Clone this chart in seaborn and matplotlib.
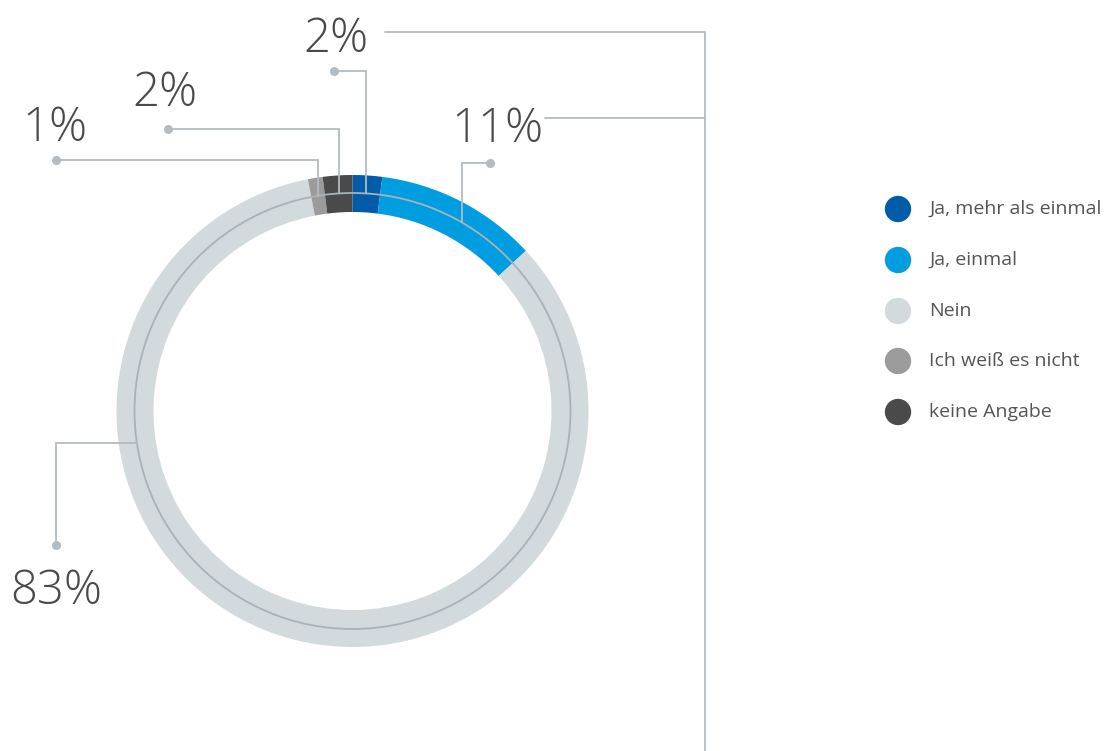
import numpy as np
import matplotlib
matplotlib.use("Agg")
import matplotlib.pyplot as plt
from matplotlib.patches import Circle
import pandas as pd
import seaborn as sns

# Survey answers, drawn clockwise from 12 o'clock
categories = ["Ja, mehr als einmal", "Ja, einmal", "Nein", "Ich weiß es nicht", "keine Angabe"]
values = [2, 11, 83, 1, 2]
labels = ["2%", "11%", "83%", "1%", "2%"]
colors = ["#005ca9", "#009ee0", "#d3dadd", "#9b9b9b", "#4a4a4a"]

sns.set_theme(style="white")
plt.rcParams["font.family"] = ["Open Sans", "DejaVu Sans"]

W, H = 1109, 751
fig = plt.figure(figsize=(W / 100, H / 100), dpi=100)
ax = fig.add_axes([0, 0, 1, 1])

# ring geometry (pixel units, y grows downwards)
cx, cy = 352.5, 411.0
R_OUT, RING_W, R_LINE = 236.0, 37.0, 218.0

ax.pie(values, colors=colors, startangle=-90, counterclock=True,
       center=(cx, cy), radius=R_OUT, frame=True,
       wedgeprops=dict(width=RING_W, linewidth=0))
ax.add_patch(Circle((cx, cy), R_LINE, facecolor="none", edgecolor="#a9b2b8", lw=1.3, zorder=3))

ax.set_xlim(0, W)
ax.set_ylim(H, 0)
ax.set_aspect("equal")
ax.axis("off")

LC = "#b3bcc2"
TC = "#4a4a4a"

fr = np.array(values, dtype=float) / sum(values)
starts = np.concatenate([[0], np.cumsum(fr)[:-1]])


def anchor(i, pos=0.5):
    th = np.deg2rad(-90 + 360 * (starts[i] + pos * fr[i]))
    return cx + R_LINE * np.cos(th), cy + R_LINE * np.sin(th)


def leader(pts):
    xs, ys = zip(*pts)
    ax.plot(xs, ys, color=LC, lw=1.3, solid_joinstyle="miter", zorder=4)
    ax.plot(xs[-1], ys[-1], "o", color=LC, ms=6.5, mec="none", zorder=4)


label_kw = dict(fontsize=34, color=TC, fontweight=300, va="baseline")

# Ja, mehr als einmal
x0, y0 = anchor(0)
leader([(x0, y0), (x0, 71), (334, 71)])
ax.text(303, 52, labels[0], ha="left", **label_kw)

# Ja, einmal
x1, y1 = anchor(1, 0.57)
leader([(x1, y1), (x1, 163), (490, 163)])
ax.text(451, 142, labels[1], ha="left", **label_kw)

# keine Angabe
x4, y4 = anchor(4)
leader([(x4, y4), (x4, 129), (168, 129)])
ax.text(132, 106, labels[4], ha="left", **label_kw)

# Ich weiß es nicht
x3, y3 = anchor(3)
leader([(x3, y3), (x3, 160), (56, 160)])
ax.text(22, 141, labels[3], ha="left", **label_kw)

# Nein
x2, y2 = anchor(2, 0.71)
leader([(x2, y2), (56, y2), (56, 545)])
ax.text(10, 604, labels[2], ha="left", **label_kw)

# connector frame on the right
ax.plot([385, 705, 705], [32, 32, H + 5], color=LC, lw=1.3, zorder=4)
ax.plot([545, 705], [118, 118], color=LC, lw=1.3, zorder=4)

# legend
leg = pd.DataFrame({"x": [898] * 5, "y": [209, 260, 311, 361, 412], "cat": categories})
sns.scatterplot(data=leg, x="x", y="y", hue="cat", palette=dict(zip(categories, colors)),
                s=360, linewidth=0, legend=False, ax=ax, zorder=5)
for yy, name in zip(leg["y"], categories):
    ax.text(929, yy, name, fontsize=14, color="#555555", va="center", ha="left")

ax.set_xlim(0, W)
ax.set_ylim(H, 0)
ax.axis("off")

fig.savefig("out.png", dpi=100, facecolor="white")
